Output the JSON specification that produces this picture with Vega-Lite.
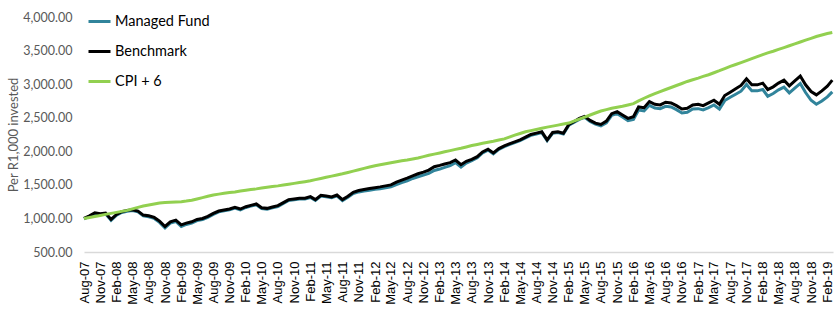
{
  "$schema": "https://vega.github.io/schema/vega-lite/v6.json",
  "width": 749,
  "height": 235,
  "autosize": "none",
  "padding": {"left": 84, "top": 17, "right": 3, "bottom": 59},
  "background": "white",
  "config": {"view": {"stroke": null}},
  "data": {"values": [
    {"d":"2007-08-01","fund":995,"bench":1000,"cpi":1000},
    {"d":"2007-09-01","fund":1030,"bench":1040,"cpi":1015},
    {"d":"2007-10-01","fund":1073,"bench":1085,"cpi":1030},
    {"d":"2007-11-01","fund":1058,"bench":1070,"cpi":1045},
    {"d":"2007-12-01","fund":1068,"bench":1080,"cpi":1060},
    {"d":"2008-01-01","fund":973,"bench":985,"cpi":1075},
    {"d":"2008-02-01","fund":1048,"bench":1060,"cpi":1090},
    {"d":"2008-03-01","fund":1088,"bench":1100,"cpi":1105},
    {"d":"2008-04-01","fund":1108,"bench":1120,"cpi":1120},
    {"d":"2008-05-01","fund":1118,"bench":1130,"cpi":1142},
    {"d":"2008-06-01","fund":1098,"bench":1110,"cpi":1165},
    {"d":"2008-07-01","fund":1038,"bench":1050,"cpi":1185},
    {"d":"2008-08-01","fund":1025,"bench":1040,"cpi":1200},
    {"d":"2008-09-01","fund":1000,"bench":1015,"cpi":1215},
    {"d":"2008-10-01","fund":942,"bench":960,"cpi":1230},
    {"d":"2008-11-01","fund":860,"bench":880,"cpi":1236},
    {"d":"2008-12-01","fund":930,"bench":950,"cpi":1240},
    {"d":"2009-01-01","fund":955,"bench":975,"cpi":1245},
    {"d":"2009-02-01","fund":880,"bench":905,"cpi":1250},
    {"d":"2009-03-01","fund":910,"bench":930,"cpi":1258},
    {"d":"2009-04-01","fund":930,"bench":950,"cpi":1270},
    {"d":"2009-05-01","fund":967,"bench":985,"cpi":1290},
    {"d":"2009-06-01","fund":985,"bench":1000,"cpi":1310},
    {"d":"2009-07-01","fund":1015,"bench":1030,"cpi":1330},
    {"d":"2009-08-01","fund":1060,"bench":1075,"cpi":1350},
    {"d":"2009-09-01","fund":1098,"bench":1110,"cpi":1362},
    {"d":"2009-10-01","fund":1113,"bench":1125,"cpi":1375},
    {"d":"2009-11-01","fund":1128,"bench":1140,"cpi":1385},
    {"d":"2009-12-01","fund":1153,"bench":1165,"cpi":1395},
    {"d":"2010-01-01","fund":1128,"bench":1140,"cpi":1408},
    {"d":"2010-02-01","fund":1163,"bench":1175,"cpi":1420},
    {"d":"2010-03-01","fund":1183,"bench":1195,"cpi":1430},
    {"d":"2010-04-01","fund":1203,"bench":1215,"cpi":1440},
    {"d":"2010-05-01","fund":1148,"bench":1160,"cpi":1452},
    {"d":"2010-06-01","fund":1138,"bench":1150,"cpi":1465},
    {"d":"2010-07-01","fund":1158,"bench":1170,"cpi":1475},
    {"d":"2010-08-01","fund":1178,"bench":1190,"cpi":1485},
    {"d":"2010-09-01","fund":1223,"bench":1235,"cpi":1497},
    {"d":"2010-10-01","fund":1268,"bench":1280,"cpi":1510},
    {"d":"2010-11-01","fund":1278,"bench":1290,"cpi":1522},
    {"d":"2010-12-01","fund":1288,"bench":1300,"cpi":1535},
    {"d":"2011-01-01","fund":1288,"bench":1300,"cpi":1547},
    {"d":"2011-02-01","fund":1312,"bench":1324,"cpi":1560},
    {"d":"2011-03-01","fund":1268,"bench":1280,"cpi":1578},
    {"d":"2011-04-01","fund":1333,"bench":1345,"cpi":1595},
    {"d":"2011-05-01","fund":1322,"bench":1334,"cpi":1612},
    {"d":"2011-06-01","fund":1308,"bench":1320,"cpi":1630},
    {"d":"2011-07-01","fund":1337,"bench":1349,"cpi":1648},
    {"d":"2011-08-01","fund":1265,"bench":1280,"cpi":1665},
    {"d":"2011-09-01","fund":1315,"bench":1330,"cpi":1685},
    {"d":"2011-10-01","fund":1370,"bench":1390,"cpi":1705},
    {"d":"2011-11-01","fund":1395,"bench":1415,"cpi":1725},
    {"d":"2011-12-01","fund":1408,"bench":1430,"cpi":1745},
    {"d":"2012-01-01","fund":1420,"bench":1445,"cpi":1765},
    {"d":"2012-02-01","fund":1433,"bench":1458,"cpi":1785},
    {"d":"2012-03-01","fund":1440,"bench":1470,"cpi":1800},
    {"d":"2012-04-01","fund":1455,"bench":1485,"cpi":1815},
    {"d":"2012-05-01","fund":1470,"bench":1500,"cpi":1830},
    {"d":"2012-06-01","fund":1505,"bench":1540,"cpi":1845},
    {"d":"2012-07-01","fund":1535,"bench":1570,"cpi":1858},
    {"d":"2012-08-01","fund":1560,"bench":1600,"cpi":1870},
    {"d":"2012-09-01","fund":1595,"bench":1635,"cpi":1885},
    {"d":"2012-10-01","fund":1620,"bench":1665,"cpi":1900},
    {"d":"2012-11-01","fund":1645,"bench":1690,"cpi":1920},
    {"d":"2012-12-01","fund":1670,"bench":1720,"cpi":1940},
    {"d":"2013-01-01","fund":1715,"bench":1770,"cpi":1958},
    {"d":"2013-02-01","fund":1735,"bench":1790,"cpi":1975},
    {"d":"2013-03-01","fund":1760,"bench":1810,"cpi":1992},
    {"d":"2013-04-01","fund":1785,"bench":1830,"cpi":2010},
    {"d":"2013-05-01","fund":1830,"bench":1870,"cpi":2028},
    {"d":"2013-06-01","fund":1765,"bench":1800,"cpi":2045},
    {"d":"2013-07-01","fund":1825,"bench":1850,"cpi":2065},
    {"d":"2013-08-01","fund":1860,"bench":1880,"cpi":2085},
    {"d":"2013-09-01","fund":1905,"bench":1920,"cpi":2102},
    {"d":"2013-10-01","fund":1975,"bench":1990,"cpi":2120},
    {"d":"2013-11-01","fund":2018,"bench":2030,"cpi":2135},
    {"d":"2013-12-01","fund":1963,"bench":1975,"cpi":2150},
    {"d":"2014-01-01","fund":2028,"bench":2040,"cpi":2168},
    {"d":"2014-02-01","fund":2068,"bench":2080,"cpi":2185},
    {"d":"2014-03-01","fund":2098,"bench":2110,"cpi":2212},
    {"d":"2014-04-01","fund":2128,"bench":2140,"cpi":2240},
    {"d":"2014-05-01","fund":2158,"bench":2170,"cpi":2265},
    {"d":"2014-06-01","fund":2198,"bench":2210,"cpi":2290},
    {"d":"2014-07-01","fund":2238,"bench":2250,"cpi":2308},
    {"d":"2014-08-01","fund":2258,"bench":2270,"cpi":2325},
    {"d":"2014-09-01","fund":2278,"bench":2290,"cpi":2342},
    {"d":"2014-10-01","fund":2158,"bench":2170,"cpi":2360},
    {"d":"2014-11-01","fund":2268,"bench":2280,"cpi":2375},
    {"d":"2014-12-01","fund":2278,"bench":2290,"cpi":2390},
    {"d":"2015-01-01","fund":2256,"bench":2268,"cpi":2405},
    {"d":"2015-02-01","fund":2388,"bench":2400,"cpi":2420},
    {"d":"2015-03-01","fund":2428,"bench":2440,"cpi":2450},
    {"d":"2015-04-01","fund":2475,"bench":2490,"cpi":2480},
    {"d":"2015-05-01","fund":2505,"bench":2520,"cpi":2510},
    {"d":"2015-06-01","fund":2445,"bench":2460,"cpi":2540},
    {"d":"2015-07-01","fund":2405,"bench":2420,"cpi":2570},
    {"d":"2015-08-01","fund":2380,"bench":2400,"cpi":2600},
    {"d":"2015-09-01","fund":2425,"bench":2450,"cpi":2620},
    {"d":"2015-10-01","fund":2535,"bench":2560,"cpi":2640},
    {"d":"2015-11-01","fund":2560,"bench":2590,"cpi":2655},
    {"d":"2015-12-01","fund":2510,"bench":2540,"cpi":2670},
    {"d":"2016-01-01","fund":2455,"bench":2490,"cpi":2690},
    {"d":"2016-02-01","fund":2475,"bench":2515,"cpi":2710},
    {"d":"2016-03-01","fund":2615,"bench":2660,"cpi":2750},
    {"d":"2016-04-01","fund":2600,"bench":2650,"cpi":2790},
    {"d":"2016-05-01","fund":2685,"bench":2740,"cpi":2825},
    {"d":"2016-06-01","fund":2645,"bench":2700,"cpi":2860},
    {"d":"2016-07-01","fund":2635,"bench":2690,"cpi":2890},
    {"d":"2016-08-01","fund":2670,"bench":2730,"cpi":2920},
    {"d":"2016-09-01","fund":2660,"bench":2720,"cpi":2950},
    {"d":"2016-10-01","fund":2620,"bench":2680,"cpi":2980},
    {"d":"2016-11-01","fund":2570,"bench":2630,"cpi":3010},
    {"d":"2016-12-01","fund":2580,"bench":2640,"cpi":3040},
    {"d":"2017-01-01","fund":2630,"bench":2690,"cpi":3065},
    {"d":"2017-02-01","fund":2635,"bench":2700,"cpi":3090},
    {"d":"2017-03-01","fund":2615,"bench":2680,"cpi":3115},
    {"d":"2017-04-01","fund":2650,"bench":2720,"cpi":3140},
    {"d":"2017-05-01","fund":2690,"bench":2760,"cpi":3170},
    {"d":"2017-06-01","fund":2630,"bench":2700,"cpi":3200},
    {"d":"2017-07-01","fund":2755,"bench":2830,"cpi":3232},
    {"d":"2017-08-01","fund":2805,"bench":2880,"cpi":3265},
    {"d":"2017-09-01","fund":2850,"bench":2930,"cpi":3292},
    {"d":"2017-10-01","fund":2895,"bench":2980,"cpi":3320},
    {"d":"2017-11-01","fund":2995,"bench":3080,"cpi":3350},
    {"d":"2017-12-01","fund":2900,"bench":2990,"cpi":3380},
    {"d":"2018-01-01","fund":2900,"bench":2990,"cpi":3410},
    {"d":"2018-02-01","fund":2920,"bench":3015,"cpi":3440},
    {"d":"2018-03-01","fund":2820,"bench":2920,"cpi":3465},
    {"d":"2018-04-01","fund":2860,"bench":2960,"cpi":3490},
    {"d":"2018-05-01","fund":2915,"bench":3015,"cpi":3518},
    {"d":"2018-06-01","fund":2955,"bench":3060,"cpi":3545},
    {"d":"2018-07-01","fund":2870,"bench":2975,"cpi":3572},
    {"d":"2018-08-01","fund":2940,"bench":3050,"cpi":3600},
    {"d":"2018-09-01","fund":3010,"bench":3120,"cpi":3628},
    {"d":"2018-10-01","fund":2875,"bench":2990,"cpi":3655},
    {"d":"2018-11-01","fund":2760,"bench":2890,"cpi":3682},
    {"d":"2018-12-01","fund":2700,"bench":2840,"cpi":3710},
    {"d":"2019-01-01","fund":2750,"bench":2900,"cpi":3732},
    {"d":"2019-02-01","fund":2810,"bench":2970,"cpi":3755},
    {"d":"2019-03-01","fund":2885,"bench":3060,"cpi":3770}
  ]},
  "transform": [{"fold": ["fund", "bench", "cpi"], "as": ["series", "value"]}],
  "mark": {"type": "line", "strokeWidth": 3, "clip": false},
  "encoding": {
    "x": {
      "field": "d",
      "type": "temporal",
      "scale": {"type": "utc", "domain": [{"year": 2007, "month": 8, "date": 1, "utc": true}, {"year": 2019, "month": 3, "date": 5, "utc": true}]},
      "axis": {
        "title": null,
        "grid": false,
        "ticks": false,
        "domainColor": "#D9D9D9",
        "domainWidth": 1.5,
        "labelAngle": -90,
        "labelFont": "Liberation Sans",
        "labelFontSize": 13,
        "labelColor": "#000000",
        "labelPadding": 9,
        "labelOverlap": false,
        "labelBound": false,
        "labelExpr": "utcFormat(datum.value, '%b-%y')",
        "values": [
          {"year": 2007, "month": 8, "date": 1, "utc": true},
          {"year": 2007, "month": 11, "date": 1, "utc": true},
          {"year": 2008, "month": 2, "date": 1, "utc": true},
          {"year": 2008, "month": 5, "date": 1, "utc": true},
          {"year": 2008, "month": 8, "date": 1, "utc": true},
          {"year": 2008, "month": 11, "date": 1, "utc": true},
          {"year": 2009, "month": 2, "date": 1, "utc": true},
          {"year": 2009, "month": 5, "date": 1, "utc": true},
          {"year": 2009, "month": 8, "date": 1, "utc": true},
          {"year": 2009, "month": 11, "date": 1, "utc": true},
          {"year": 2010, "month": 2, "date": 1, "utc": true},
          {"year": 2010, "month": 5, "date": 1, "utc": true},
          {"year": 2010, "month": 8, "date": 1, "utc": true},
          {"year": 2010, "month": 11, "date": 1, "utc": true},
          {"year": 2011, "month": 2, "date": 1, "utc": true},
          {"year": 2011, "month": 5, "date": 1, "utc": true},
          {"year": 2011, "month": 8, "date": 1, "utc": true},
          {"year": 2011, "month": 11, "date": 1, "utc": true},
          {"year": 2012, "month": 2, "date": 1, "utc": true},
          {"year": 2012, "month": 5, "date": 1, "utc": true},
          {"year": 2012, "month": 8, "date": 1, "utc": true},
          {"year": 2012, "month": 11, "date": 1, "utc": true},
          {"year": 2013, "month": 2, "date": 1, "utc": true},
          {"year": 2013, "month": 5, "date": 1, "utc": true},
          {"year": 2013, "month": 8, "date": 1, "utc": true},
          {"year": 2013, "month": 11, "date": 1, "utc": true},
          {"year": 2014, "month": 2, "date": 1, "utc": true},
          {"year": 2014, "month": 5, "date": 1, "utc": true},
          {"year": 2014, "month": 8, "date": 1, "utc": true},
          {"year": 2014, "month": 11, "date": 1, "utc": true},
          {"year": 2015, "month": 2, "date": 1, "utc": true},
          {"year": 2015, "month": 5, "date": 1, "utc": true},
          {"year": 2015, "month": 8, "date": 1, "utc": true},
          {"year": 2015, "month": 11, "date": 1, "utc": true},
          {"year": 2016, "month": 2, "date": 1, "utc": true},
          {"year": 2016, "month": 5, "date": 1, "utc": true},
          {"year": 2016, "month": 8, "date": 1, "utc": true},
          {"year": 2016, "month": 11, "date": 1, "utc": true},
          {"year": 2017, "month": 2, "date": 1, "utc": true},
          {"year": 2017, "month": 5, "date": 1, "utc": true},
          {"year": 2017, "month": 8, "date": 1, "utc": true},
          {"year": 2017, "month": 11, "date": 1, "utc": true},
          {"year": 2018, "month": 2, "date": 1, "utc": true},
          {"year": 2018, "month": 5, "date": 1, "utc": true},
          {"year": 2018, "month": 8, "date": 1, "utc": true},
          {"year": 2018, "month": 11, "date": 1, "utc": true},
          {"year": 2019, "month": 2, "date": 1, "utc": true}
        ]
      }
    },
    "y": {
      "field": "value",
      "type": "quantitative",
      "scale": {"domain": [500, 4000], "nice": false, "zero": false},
      "axis": {
        "values": [500, 1000, 1500, 2000, 2500, 3000, 3500, 4000],
        "format": ",.2f",
        "grid": false,
        "domain": false,
        "ticks": false,
        "labelFont": "Lato",
        "labelFontSize": 12.5,
        "labelColor": "#595959",
        "labelPadding": 12,
        "title": "Per R1,000 invested",
        "titleFont": "Lato",
        "titleFontSize": 13,
        "titleFontWeight": "normal",
        "titleColor": "#595959",
        "titlePadding": 2
      }
    },
    "color": {
      "field": "series",
      "type": "nominal",
      "scale": {"domain": ["fund", "bench", "cpi"], "range": ["#31849B", "#000000", "#92D050"]},
      "legend": {
        "title": null,
        "orient": "none",
        "legendX": 3,
        "legendY": -8,
        "padding": 0,
        "symbolType": "stroke",
        "symbolSize": 484,
        "symbolStrokeWidth": 3,
        "labelFont": "Lato",
        "labelFontSize": 14.5,
        "labelColor": "#000000",
        "labelOffset": 3,
        "rowPadding": 11,
        "labelExpr": "datum.label == 'fund' ? 'Managed Fund' : datum.label == 'bench' ? 'Benchmark' : 'CPI + 6'"
      }
    }
  }
}
